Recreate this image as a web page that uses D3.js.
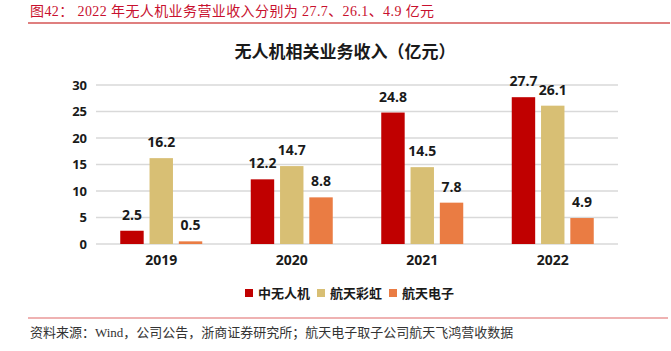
<!DOCTYPE html>
<html><head><meta charset="utf-8">
<script src="https://cdn.jsdelivr.net/npm/d3@7/dist/d3.min.js"></script>
<style>body{margin:0;background:#fff}svg{display:block}</style>
</head><body>
<svg id="c" width="671" height="351"></svg>
<script>
const years = ["2019","2020","2021","2022"];
const seriesNames = ["中无人机","航天彩虹","航天电子"];
const zwrj = [2.5, 12.2, 24.8, 27.7];
const htch = [16.2, 14.7, 14.5, 26.1];
const htdz = [0.5, 8.8, 7.8, 4.9];
const yTicks = [0,5,10,15,20,25,30];
const colors = ["#c00000","#d8bf74","#ea7c43"];

const svg = d3.select("#c");
const sans = "'Open Sans','Noto Sans CJK SC',sans-serif";
const cjk = "'Noto Sans CJK SC',sans-serif";
const serif = "'Liberation Serif','Noto Sans CJK SC',serif";

// header
svg.append("text").attr("x",30).attr("y",16).attr("fill","#c8102e")
  .style("font-family",serif).style("font-size","14px").style("letter-spacing","0.4px")
  .text("图42： 2022 年无人机业务营业收入分别为 27.7、26.1、4.9 亿元");
svg.append("line").attr("x1",28).attr("x2",670).attr("y1",23).attr("y2",23)
  .attr("stroke","#c00000").attr("stroke-width",1.2);

// chart title
svg.append("text").attr("x",345).attr("y",58).attr("text-anchor","middle")
  .attr("fill","#1a1a1a").style("font-family",cjk).style("font-weight","bold").style("font-size","17px")
  .text("无人机相关业务收入（亿元）");

const x0 = d3.scaleBand().domain(years).range([96,618]);
const y = d3.scaleLinear().domain([0,30]).range([244,85]);
const x1 = d3.scaleBand().domain(d3.range(3)).range([-41,41]).paddingInner(0.2);

// grid
svg.append("g").selectAll("line").data(yTicks).join("line")
  .attr("x1",96).attr("x2",618).attr("y1",d=>y(d)).attr("y2",d=>y(d))
  .attr("stroke","#d9d9d9").attr("stroke-width",1.3);

// y axis
const ya = svg.append("g").attr("transform","translate(96,0)")
  .call(d3.axisLeft(y).tickValues(yTicks).tickSize(0).tickPadding(9));
ya.select(".domain").remove();
ya.selectAll("text").attr("fill","#1a1a1a").style("font-family",sans).style("font-weight","bold").style("font-size","13px");

// x axis
const xa = svg.append("g").attr("transform","translate(0,244)")
  .call(d3.axisBottom(x0).tickSize(0).tickPadding(11));
xa.select(".domain").remove();
xa.selectAll("text").attr("fill","#1a1a1a").style("font-family",sans).style("font-weight","bold").style("font-size","14px");

const series = [zwrj, htch, htdz];
const data = [];
series.forEach((s,i)=>s.forEach((v,j)=>data.push({i, year:years[j], v})));

svg.append("g").selectAll("rect").data(data).join("rect")
  .attr("x",d=>x0(d.year)+x0.bandwidth()/2+x1(d.i))
  .attr("width",x1.bandwidth())
  .attr("y",d=>y(d.v)).attr("height",d=>y(0)-y(d.v))
  .attr("fill",d=>colors[d.i]);

svg.append("g").selectAll("text").data(data).join("text")
  .attr("x",d=>x0(d.year)+x0.bandwidth()/2+x1(d.i)+x1.bandwidth()/2)
  .attr("y",d=>y(d.v)-11).attr("text-anchor","middle")
  .attr("fill","#1a1a1a").style("font-family",sans).style("font-weight","bold").style("font-size","14px")
  .text(d=>d.v.toFixed(1));

// legend
const lg = svg.append("g").selectAll("g").data(seriesNames).join("g")
  .attr("transform",(d,i)=>`translate(${245+i*72},289)`);
lg.append("rect").attr("width",8).attr("height",8).attr("fill",(d,i)=>colors[i]);
lg.append("text").attr("x",13).attr("y",9).attr("fill","#1a1a1a")
  .style("font-family",cjk).style("font-weight","bold").style("font-size","13px").text(d=>d);

// footer
svg.append("line").attr("x1",28).attr("x2",668).attr("y1",318).attr("y2",318)
  .attr("stroke","#e06666").attr("stroke-width",1.2);
svg.append("text").attr("x",30).attr("y",337).attr("fill","#333")
  .style("font-family",serif).style("font-size","13px")
  .text("资料来源：Wind，公司公告，浙商证券研究所；航天电子取子公司航天飞鸿营收数据");
</script>
</body></html>
